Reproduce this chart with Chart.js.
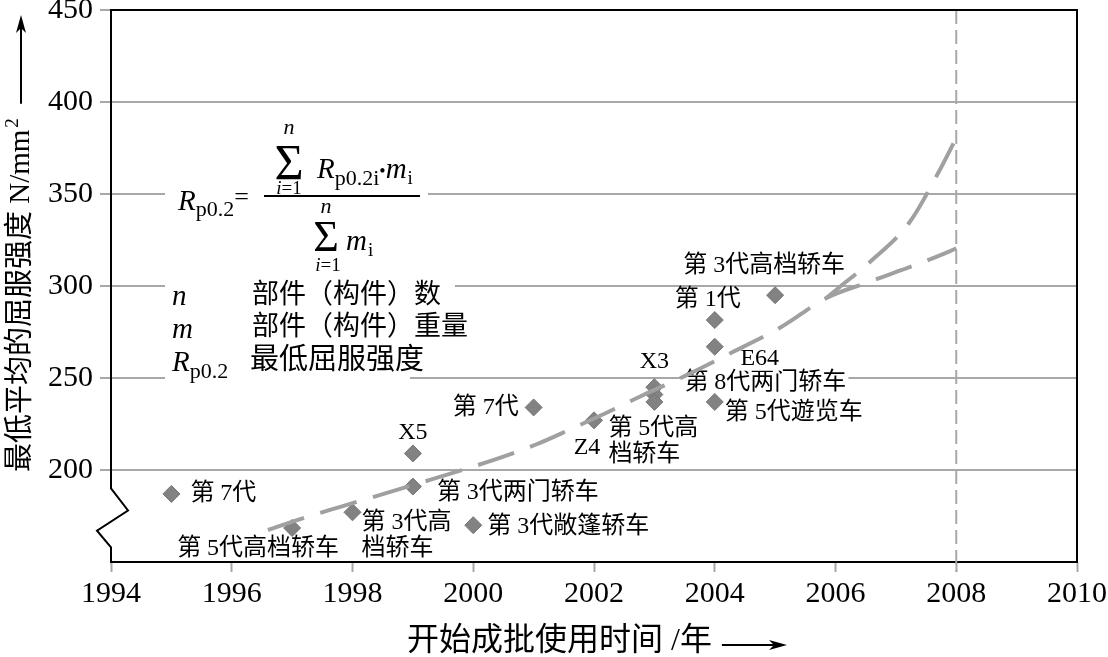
<!DOCTYPE html>
<html>
<head>
<meta charset="utf-8">
<script src="https://cdn.jsdelivr.net/npm/chart.js"></script>
<style>
html, body { margin: 0; padding: 0; background: #fff; }
#wrap { width: 1108px; height: 657px; }
</style>
</head>
<body>
<div id="wrap"><canvas id="strengthChart"></canvas></div>
<script>

// axis ticks
const xTicks = [1994, 1996, 1998, 2000, 2002, 2004, 2006, 2008, 2010];
const yTicks = [200, 250, 300, 350, 400, 450];

// models: launch year and minimum mean yield strength (N/mm2)
const launchYear = [1995, 1997, 1998, 1999, 1999, 2000, 2001, 2002, 2003, 2003, 2003, 2004, 2004, 2004, 2005];
const minStrength = [187, 168.5, 177, 209, 191, 170, 234, 227, 245, 241, 237, 281.5, 267, 237, 295];
const modelNames = ['第 7代', '第 5代高档轿车', '第 3代高\n档轿车', 'X5', '第 3代两门轿车', '第 3代敞篷轿车',
    '第 7代', 'Z4', 'X3', '第 8代两门轿车', '第 5代高\n档轿车', '第 1代', 'E64', '第 5代遊览车', '第 3代高档轿车'];

// trend curves (dashed)
const trendYears = [1996.6, 1997.2, 1997.8, 1999, 2000.2, 2001.05, 2001.6, 2002.2, 2002.8, 2003.5, 2004.2, 2005.1, 2005.85, 2006.5, 2007.1, 2007.9, 2008];
const trendLower = [167.4, 174, 180, 191.8, 204, 214, 222, 231, 240.5, 251, 262.5, 277.7, 293.5, 301.6, 308.7, 319, 320.5];
const steepYears = [2005.85, 2006.07, 2006.57, 2007.23, 2007.7, 2008];
const trendSteep = [293.5, 299.5, 313, 334.8, 361.4, 380.4];

// label offsets from each diamond: dx, dy, align
const labelPlacement = [
    [19, 0, 'left'], [-115, 21, 'left'], [9, 10, 'left'], [0, -21, 'center'], [24, 6, 'left'],
    [14, 2, 'left'], [-15, 0, 'right'], [-7, 27, 'center'], [0, -25, 'center'], [30, -12, 'left'],
    [-46, 27, 'left'], [-7, -20, 'center'], [45, 12, 'center'], [10, 11, 'left'], [-11, -29, 'center']
];

const serif = '"Liberation Serif", "Noto Sans CJK SC", serif';
const fnt = (size, italic) => (italic ? 'italic ' : '') + size + 'px ' + serif;

function say(ctx, s, x, y, size, italic, align, base) {
    ctx.font = fnt(size, italic);
    ctx.textAlign = align || 'left';
    ctx.textBaseline = base || 'alphabetic';
    ctx.fillText(s, x, y);
    return ctx.measureText(s).width;
}

// draw "i=1" centred on x
function limit(ctx, x, y) {
    ctx.font = fnt(19, true);
    const w1 = ctx.measureText('i').width;
    ctx.font = fnt(19);
    const w2 = ctx.measureText('=1').width;
    const x0 = x - (w1 + w2) / 2;
    say(ctx, 'i', x0, y, 19, true);
    say(ctx, '=1', x0 + w1, y, 19);
}

function arrow(ctx, x0, y0, x1) {
    ctx.strokeStyle = '#000';
    ctx.fillStyle = '#000';
    ctx.lineWidth = 2;
    ctx.beginPath();
    ctx.moveTo(x0, y0);
    ctx.lineTo(x1 - 12, y0);
    ctx.stroke();
    ctx.beginPath();
    ctx.moveTo(x1, y0);
    ctx.lineTo(x1 - 18, y0 - 5);
    ctx.lineTo(x1 - 13, y0);
    ctx.lineTo(x1 - 18, y0 + 5);
    ctx.closePath();
    ctx.fill();
}

function drawFormula(ctx) {
    ctx.fillStyle = '#fff';
    ctx.fillRect(165, 112, 263, 162);
    ctx.fillRect(165, 281, 290, 30);
    ctx.fillRect(165, 314, 290, 30);
    ctx.fillRect(165, 346, 245, 36);
    ctx.fillStyle = '#000';

    let x = 178;
    x += say(ctx, 'R', x, 210, 29, true);
    x += say(ctx, 'p0.2', x, 216, 22);
    say(ctx, '=', x, 205, 26);
    ctx.fillRect(264, 195, 156, 2);

    // numerator
    say(ctx, 'n', 289, 134, 22, true, 'center');
    say(ctx, 'Σ', 289, 179, 50, false, 'center');
    limit(ctx, 289, 194);
    x = 317;
    x += say(ctx, 'R', x, 178, 29, true);
    x += say(ctx, 'p0.2i', x, 185, 22);
    x += say(ctx, '•', x, 177, 18);
    x += say(ctx, 'm', x, 178, 29, true);
    say(ctx, 'i', x + 1, 184, 19);

    // denominator
    say(ctx, 'n', 326, 213, 22, true, 'center');
    say(ctx, 'Σ', 326, 251, 44, false, 'center');
    limit(ctx, 328, 271);
    x = 346;
    x += say(ctx, 'm', x, 250, 29, true);
    say(ctx, 'i', x + 1, 256, 19);

    // symbol list
    say(ctx, 'n', 172, 305, 29, true);
    say(ctx, '部件（构件）数', 252, 296, 27, false, 'left', 'middle');
    say(ctx, 'm', 172, 338, 29, true);
    say(ctx, '部件（构件）重量', 252, 328, 27, false, 'left', 'middle');
    x = 172;
    x += say(ctx, 'R', x, 371, 29, true);
    say(ctx, 'p0.2', x, 378, 22);
    say(ctx, '最低屈服强度', 250, 361, 29, false, 'left', 'middle');
}

const annotate = {
    id: 'annotate',
    beforeDatasetsDraw(chart) {
        const ctx = chart.ctx;
        const {left, right, top, bottom} = chart.chartArea;
        const xs = chart.scales.x;
        const ys = chart.scales.y;
        ctx.save();

        // dashed line at 2008
        const x08 = xs.getPixelForValue(2008);
        ctx.strokeStyle = '#a8a8a8';
        ctx.lineWidth = 2;
        ctx.setLineDash([14, 6]);
        ctx.beginPath();
        ctx.moveTo(x08, top);
        ctx.lineTo(x08, bottom + 10);
        ctx.stroke();
        ctx.setLineDash([]);

        // frame with axis break
        const yb = [190, 178, 167, 158].map(v => ys.getPixelForValue(v));
        ctx.strokeStyle = '#000';
        ctx.lineWidth = 2;
        ctx.beginPath();
        ctx.moveTo(right, bottom);
        ctx.lineTo(right, top);
        ctx.lineTo(left, top);
        ctx.lineTo(left, yb[0]);
        ctx.lineTo(left + 17, yb[1]);
        ctx.lineTo(left - 14, yb[2]);
        ctx.lineTo(left, yb[3]);
        ctx.lineTo(left, bottom);
        ctx.stroke();

        drawFormula(ctx);

        // point labels
        const pts = chart.getDatasetMeta(2).data;
        pts.forEach((p, i) => {
            const [dx, dy, align] = labelPlacement[i];
            modelNames[i].split('\n').forEach((s, k) => {
                ctx.font = fnt(24);
                const w = ctx.measureText(s).width;
                const tx = p.x + dx;
                const ty = p.y + dy + k * 26;
                const x0 = align === 'center' ? tx - w / 2 : align === 'right' ? tx - w : tx;
                ctx.fillStyle = '#fff';
                ctx.fillRect(x0 - 2, ty - 12, w + 4, 24);
                ctx.fillStyle = '#000';
                say(ctx, s, tx, ty, 24, false, align, 'middle');
            });
        });

        // y title
        ctx.save();
        ctx.translate(21, 472);
        ctx.rotate(-Math.PI / 2);
        ctx.fillStyle = '#000';
        const w = say(ctx, '最低平均的屈服强度 N/mm', 0, 0, 29, false, 'left', 'middle');
        say(ctx, '2', w + 2, -8, 19, false, 'left', 'middle');
        arrow(ctx, w + 26, 0, 457);
        ctx.restore();

        // x title
        ctx.fillStyle = '#000';
        const wx = say(ctx, '开始成批使用时间 /年', 407, 642, 32, false, 'left', 'middle');
        arrow(ctx, 407 + wx + 10, 645, 787);

        ctx.restore();
    }
};

new Chart(document.getElementById('strengthChart'), {
    type: 'scatter',
    data: {
        datasets: [
            {
                label: 'steep',
                data: steepYears.map((v, i) => ({x: v, y: trendSteep[i]})),
                showLine: true,
                pointRadius: 0,
                borderColor: '#a0a0a0',
                borderWidth: 4,
                borderDash: [38, 17],
                cubicInterpolationMode: 'monotone',
                order: 0
            },
            {
                label: 'lower',
                data: trendYears.map((v, i) => ({x: v, y: trendLower[i]})),
                showLine: true,
                pointRadius: 0,
                borderColor: '#a0a0a0',
                borderWidth: 4,
                borderDash: [38, 17],
                cubicInterpolationMode: 'monotone',
                order: 1
            },
            {
                label: 'models',
                data: launchYear.map((v, i) => ({x: v, y: minStrength[i]})),
                pointStyle: 'rectRot',
                pointRadius: 8.5,
                pointHoverRadius: 8.5,
                backgroundColor: '#828282',
                borderColor: '#767676',
                borderWidth: 1,
                order: 2
            }
        ]
    },
    options: {
        responsive: true,
        maintainAspectRatio: false,
        animation: false,
        layout: { padding: { left: 0, right: 31, top: 10, bottom: 0 } },
        plugins: {
            legend: { display: false },
            tooltip: { enabled: false }
        },
        scales: {
            x: {
                type: 'linear',
                min: 1994,
                max: 2010,
                afterBuildTicks: s => { s.ticks = xTicks.map(v => ({value: v})); },
                afterFit: s => { s.height = 95; s.paddingLeft = 0; s.paddingRight = 0; },
                ticks: {
                    font: { family: serif, size: 30 },
                    color: '#000',
                    padding: 4,
                    maxRotation: 0,
                    autoSkip: false,
                    callback: v => String(v)
                },
                grid: { drawOnChartArea: false, drawTicks: true, tickLength: 10, tickColor: '#a8a8a8', tickWidth: 2 },
                border: { display: true, color: '#000', width: 2 }
            },
            y: {
                type: 'linear',
                min: 150,
                max: 450,
                afterBuildTicks: s => { s.ticks = yTicks.map(v => ({value: v})); },
                afterFit: s => { s.width = 111; s.paddingTop = 0; s.paddingBottom = 0; },
                ticks: {
                    font: { family: serif, size: 30 },
                    color: '#000',
                    padding: 7,
                    callback: v => String(v)
                },
                grid: { color: '#a8a8a8', lineWidth: 2, tickLength: 11, tickColor: '#a8a8a8' },
                border: { display: false }
            }
        }
    },
    plugins: [annotate]
});

</script>
</body>
</html>
